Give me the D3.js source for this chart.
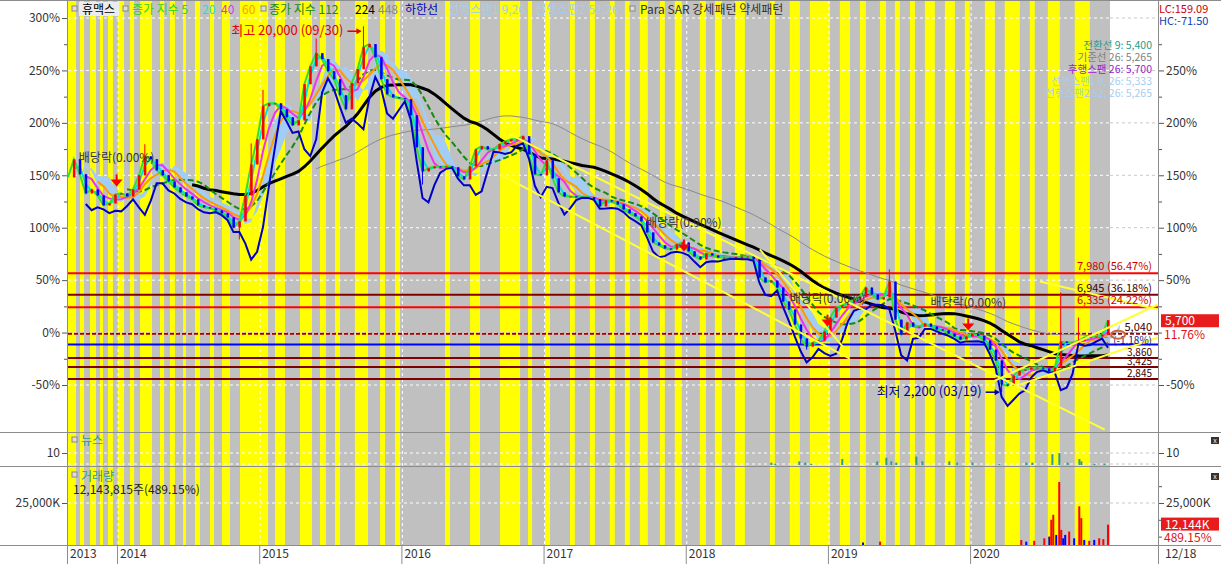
<!DOCTYPE html>
<html><head><meta charset="utf-8">
<script src="https://cdn.jsdelivr.net/npm/d3@7/dist/d3.min.js"></script>
<style>body{margin:0;background:#fff;}svg{display:block;font-family:"Noto Sans CJK KR","Noto Sans",sans-serif;}</style>
</head><body><svg id="c" width="1221" height="564"></svg>
<script>
// ---------------- DATA ----------------
const basePrice = 5100;
const tStart = 2013.648, tEnd = 2020.963;   // decimal years (first / last sample)
const closes = [12650,13530,12800,11870,12060,11770,11290,11380,11820,11870,11720,12060,12750,13670,13530,12990,12750,12450,12160,11920,
11720,11580,11290,11190,11140,11040,10900,10700,10210,10510,11770,13280,14500,16110,16250,16250,15960,15570,15180,15420,
17180,18050,18690,18400,17810,17420,16640,15960,17230,17910,18980,19130,18490,17420,16690,16540,16500,16450,15670,14110,
12940,13090,13180,13140,13180,13140,12700,12550,13180,14010,14160,14010,14010,14260,14400,14500,14500,14650,13770,12800,
12750,13480,12600,11920,11720,11720,11680,11680,11680,11580,11240,11530,11480,11330,11090,10900,10750,10510,9970,9480,
9340,9190,9140,9390,9480,9050,8800,8660,8950,8850,8750,8750,8750,8700,8800,8800,8660,7780,7540,7630,
7290,6610,6220,5490,4810,4420,4610,4710,5150,5830,6320,6420,6560,6710,6850,7290,6950,6710,6810,7580,
5730,5000,5590,5390,5390,5540,5390,5250,5200,5050,4910,4760,4910,5050,4950,4710,4270,3740,2570,2520,
3010,3250,3300,3400,3400,3350,3200,3400,4660,4610,4610,4710,4860,4910,4910,5000,5700];
// notable wick extremes [sample index, price]
const wickHighs = [[13,14260],[42,19400],[50,20000],[139,8170],[168,7050],[171,5830],[31,14300],[33,16900]];
const wickLows  = [[29,9630],[125,4270],[158,2200],[124,4500],[60,12300]];
const maLabels  = ["5","20","40","60","112","224","448"];
const maPeriods = [1,2,4,6,11,22,43];      // in samples (~15 days each)
const maColors  = ["#33dd33","#00e0e0","#ee33ee","#ff9900","#138a13","#000000","#8a8a8a"];
// price levels
const levelPrices = [7980,6945,6335,5040,4515,3860,3425,2845];
const levelKinds  = ["red","maroon","red","dash","blue","maroon","maroon","maroon"];
const levelText   = ["7,980 (56.47%)","6,945 (36.18%)","6,335 (24.22%)","5,040","(-1.18%)","3,860","3,425","2,845"];
// para SAR strong (yellow) periods, decimal years; rest is weak (gray)
const sarStrong = [[2013.648,2013.704],[2013.732,2013.761],[2013.803,2013.845],[2013.873,2013.894],[2013.929,2013.964],
[2014.000,2014.042],[2014.084,2014.113],[2014.155,2014.239],[2014.295,2014.324],[2014.365,2014.400],[2014.457,2014.478],
[2014.541,2014.576],[2014.647,2014.675],[2014.731,2014.787],[2014.858,2015.055],[2015.104,2015.174],[2015.280,2015.364],
[2015.420,2015.462],[2015.526,2015.561],[2015.666,2015.758],[2015.843,2015.878],[2015.948,2015.983],[2016.300,2016.335],
[2016.476,2016.546],[2016.687,2016.828],[2016.884,2016.912],[2017.003,2017.038],[2017.179,2017.213],[2017.319,2017.354],
[2017.459,2017.494],[2017.565,2017.600],[2017.670,2017.726],[2017.811,2017.846],[2017.916,2017.965],[2018.092,2018.135],
[2018.198,2018.247],[2018.339,2018.409],[2018.585,2018.620],[2018.725,2018.796],[2018.866,2019.007],[2019.077,2019.148],
[2019.218,2019.260],[2019.359,2019.401],[2019.464,2019.499],[2019.570,2019.605],[2019.675,2019.745],[2019.816,2019.886],
[2019.956,2019.991],[2020.097,2020.167],[2020.237,2020.343],[2020.413,2020.448],[2020.540,2020.624],[2020.729,2020.835]];
// trend lines [t1, p1, t2, p2]
const trendLines = [[2016.756,14743,2020.940,380],[2016.686,12795,2019.147,3834],[2018.514,9142,2019.098,4418],
[2020.153,2714,2021.313,6464],[2020.343,2568,2021.313,4857],[2020.484,7584,2021.313,6220]];
// ex-dividend events (time, arrow-tip price, label)
const divTimes  = [2013.99,2017.98,2018.99,2019.98];
const divPrices = [12210,9045,5390,5200];
const divText   = ["배당락(0.00%)","배당락(0.90%)","배당락(0.00%)","배당락(0.00%)"];
// volume (thousand shares)
const volTimes = [2019.360,2019.240,2020.353,2020.388,2020.444,2020.515,2020.550,2020.564,2020.578,2020.599,2020.620,2020.634,2020.648,2020.662,2020.690,2020.725,2020.761,2020.775,2020.796,2020.831,2020.866,2020.901,2020.930,2020.963];
const volValues= [2000,1500,3000,2000,2500,4000,5000,15000,18000,6000,37500,9000,4000,6000,8000,4000,23000,16000,3000,2500,3000,4000,3500,12144];
const volUp    = [1,0,1,0,1,1,0,1,1,0,1,1,0,0,1,0,1,1,0,1,0,1,1,1];
// news counts
const newsTimes = [2018.595,2018.623,2018.792,2018.834,2018.876,2019.094,2019.340,2019.404,2019.439,2019.474,2019.615,2019.657,2019.847,2019.903,2020.009,2020.199,2020.389,2020.431,2020.572,2020.621,2020.678,2020.762,2020.776,2020.868,2020.938];
const newsCounts= [2,1,3,2,1,5,3,6,3,2,7,3,3,2,2,1,2,2,9,10,2,5,3,1,1];
const yearTicks = [2014,2015,2016,2017,2018,2019,2020];
const priceTicks = [-50,0,50,100,150,200,250,300];

// ---------------- SCALES ----------------
const svg = d3.select("#c");
const XL = 68, XR = 1158, XD = 1108;
const x = d3.scaleLinear().domain([tStart,tEnd]).range([XL,XD]);
const y = d3.scaleLinear().domain([-50,300]).range([385,18]);
const pct = p => (p/basePrice-1)*100;
const yp = p => y(pct(p));
const yNews = d3.scaleLinear().domain([0,10]).range([465,453]);
const yVol = d3.scaleLinear().domain([0,25000]).range([545,503]);
const step = (tEnd-tStart)/(closes.length-1);
const times = closes.map((_,i)=>tStart+i*step);
const FONT = '"Noto Sans CJK KR","Noto Sans",sans-serif';

svg.append("rect").attr("width",1221).attr("height",564).attr("fill","#fff");

// ---------------- BACKGROUND (Para SAR) ----------------
const bg = svg.append("g");
bg.append("rect").attr("x",XL).attr("y",1).attr("width",XD-XL+2).attr("height",544).attr("fill","#c0c0c0");
bg.selectAll("rect.s").data(sarStrong).join("rect").attr("class","s")
  .attr("x",d=>x(d[0])).attr("width",d=>Math.max(1,x(d[1])-x(d[0]))).attr("y",1).attr("height",544).attr("fill","#ffff00");

// grid
const grid = svg.append("g");
priceTicks.forEach(v=>{
  grid.append("line").attr("x1",XL).attr("x2",XD+2).attr("y1",y(v)).attr("y2",y(v)).attr("stroke","#fff").attr("stroke-dasharray","3,3");
  grid.append("line").attr("x1",XD+2).attr("x2",XR).attr("y1",y(v)).attr("y2",y(v)).attr("stroke","#c8c8c8").attr("stroke-dasharray","3,3");
});
[[yNews(10)],[464],[yVol(25000)]].forEach(([v])=>{
  grid.append("line").attr("x1",XL).attr("x2",XD+2).attr("y1",v).attr("y2",v).attr("stroke","#fff").attr("stroke-dasharray","3,3");
  grid.append("line").attr("x1",XD+2).attr("x2",XR).attr("y1",v).attr("y2",v).attr("stroke","#c8c8c8").attr("stroke-dasharray","3,3");
});
yearTicks.forEach(t=>{
  grid.append("line").attr("x1",x(t)).attr("x2",x(t)).attr("y1",1).attr("y2",545).attr("stroke","#fff").attr("stroke-dasharray","3,3");
});

// ---------------- INDICATORS ----------------
const price = svg.append("g");
function rollMean(arr,n){return arr.map((_,i)=> i<n-1?null:d3.mean(arr.slice(i-n+1,i+1)));}
function rollMid(arr,i,n){const s=arr.slice(Math.max(0,i-n+1),i+1);return (d3.max(s)+d3.min(s))/2;}
// ichimoku cloud
const shift = 2;
const cloud = closes.map((c,i)=>({t:tStart+(i+shift)*step,a:(rollMid(closes,i,1)+rollMid(closes,i,3))/2,b:rollMid(closes,i,5)}));
price.append("path").datum(cloud).attr("fill","#a2cdf6")
  .attr("d",d3.area().x(d=>x(d.t)).y0(d=>yp(d.a)).y1(d=>yp(d.b)));
// levels
const lvColor = {red:"#ff0000",maroon:"#800000",dash:"#a00000",blue:"#0000ff"};
levelPrices.forEach((p,i)=>{
  const k=levelKinds[i];
  price.append("line").attr("x1",XL).attr("x2",XR).attr("y1",yp(p)).attr("y2",yp(p))
    .attr("stroke",lvColor[k]).attr("stroke-width",2).attr("stroke-dasharray",k==="dash"?"4,2":null);
});
// moving averages (long ones first)
for(let m=maPeriods.length-1;m>=0;m--){
  const ma=rollMean(closes,maPeriods[m]);
  const line=d3.line().defined(d=>d!=null).x((d,i)=>x(times[i])).y(d=>yp(d));
  price.append("path").datum(ma).attr("fill","none").attr("stroke",maColors[m])
    .attr("stroke-width",m===5?3:(m===6?1:2)).attr("stroke-dasharray",m===4?"6,3":null).attr("d",line);
}
// candles
const cg = price.append("g");
closes.forEach((c,i)=>{
  if(i===0) return;
  const o=closes[i-1], up=c>=o, col=up?"#ff0000":"#0000ff";
  const hi=(wickHighs.find(d=>d[0]===i)||[0,Math.max(o,c)])[1];
  const lo=(wickLows.find(d=>d[0]===i)||[0,Math.min(o,c)])[1];
  const xx=x(times[i]);
  cg.append("line").attr("x1",xx).attr("x2",xx).attr("y1",yp(hi)).attr("y2",yp(lo)).attr("stroke",col).attr("stroke-width",1);
  cg.append("rect").attr("x",xx-1).attr("width",2.5).attr("y",yp(Math.max(o,c))).attr("height",Math.max(1,Math.abs(yp(o)-yp(c)))).attr("fill",col);
});
// lower band (하한선)
const lower = closes.map((c,i)=>{ if(i<3) return null; const s=closes.slice(i-3,i+1); return d3.mean(s)-2*d3.deviation(s); });
price.append("path").datum(lower).attr("fill","none").attr("stroke","#0000c8").attr("stroke-width",2)
  .attr("d",d3.line().defined(d=>d!=null).x((d,i)=>x(times[i])).y(d=>yp(d)));
// trend lines
trendLines.forEach(d=>{
  price.append("line").attr("x1",x(d[0])).attr("y1",yp(d[1])).attr("x2",x(d[2])).attr("y2",yp(d[3]))
    .attr("stroke","#ffff33").attr("stroke-width",2);
});

// ---------------- NEWS & VOLUME ----------------
svg.append("g").selectAll("rect").data(newsTimes).join("rect")
  .attr("x",(d)=>x(d)-1).attr("width",2).attr("y",(d,i)=>yNews(newsCounts[i])).attr("height",(d,i)=>465-yNews(newsCounts[i])).attr("fill","#2f9a8f");
svg.append("g").selectAll("rect").data(volTimes).join("rect")
  .attr("x",(d)=>x(d)-1).attr("width",2).attr("y",(d,i)=>yVol(volValues[i])).attr("height",(d,i)=>545-yVol(volValues[i]))
  .attr("fill",(d,i)=>volUp[i]?"#ff0000":"#0000ff");

// ---------------- FRAME & AXES ----------------
const fr = svg.append("g").attr("stroke","#8c8c8c").attr("stroke-width",1);
[432.5,466.5,545.5].forEach(v=>fr.append("line").attr("x1",0).attr("x2",1221).attr("y1",v).attr("y2",v));
fr.append("line").attr("x1",0).attr("x2",1221).attr("y1",0.5).attr("y2",0.5);
fr.append("line").attr("x1",XL-0.5).attr("x2",XL-0.5).attr("y1",0).attr("y2",564);
fr.append("line").attr("x1",XR+0.5).attr("x2",XR+0.5).attr("y1",0).attr("y2",564);

function styleAx(g){g.select(".domain").remove();g.selectAll("line").attr("stroke","#555");
  g.selectAll("text").attr("font-size",12).attr("fill","#333").attr("font-family",FONT);}
svg.append("g").attr("transform",`translate(${XL-1},0)`).call(d3.axisLeft(y).tickValues(priceTicks).tickFormat(d=>d+"%").tickSize(5).tickPadding(2)).call(styleAx);
svg.append("g").attr("transform",`translate(${XL-1},0)`).call(d3.axisLeft(y).tickValues(d3.range(-25,300,50)).tickFormat("").tickSize(3)).call(styleAx);
svg.append("g").attr("transform",`translate(${XR+1},0)`).call(d3.axisRight(y).tickValues([-50,50,100,150,200,250]).tickFormat(d=>d+"%").tickSize(5).tickPadding(2)).call(styleAx);
svg.append("g").attr("transform",`translate(${XR+1},0)`).call(d3.axisRight(y).tickValues(d3.range(-25,300,50).concat([0])).tickFormat("").tickSize(3)).call(styleAx);
svg.append("g").attr("transform",`translate(${XL-1},0)`).call(d3.axisLeft(yNews).tickValues([10]).tickSize(5).tickPadding(2)).call(styleAx);
svg.append("g").attr("transform",`translate(${XR+1},0)`).call(d3.axisRight(yNews).tickValues([10]).tickSize(5).tickPadding(2)).call(styleAx);
svg.append("g").attr("transform",`translate(${XL-1},0)`).call(d3.axisLeft(yVol).tickValues([25000]).tickFormat(d=>d3.format(",")(d)+"K").tickSize(5).tickPadding(2)).call(styleAx);
svg.append("g").attr("transform",`translate(${XR+1},0)`).call(d3.axisRight(yVol).tickValues([25000]).tickFormat(d=>d3.format(",")(d)+"K").tickSize(5).tickPadding(2)).call(styleAx);
svg.append("g").attr("transform",`translate(${XR+1},0)`).call(d3.axisRight(yVol).tickValues([5000,15000,35000]).tickFormat("").tickSize(3)).call(styleAx);

// x axis
const xa = svg.append("g");
[tStart].concat(yearTicks).forEach((t,i)=>{
  xa.append("line").attr("x1",x(t)-0.5).attr("x2",x(t)-0.5).attr("y1",545).attr("y2",564).attr("stroke","#8c8c8c");
  xa.append("text").attr("x",x(t)+2).attr("y",558).attr("font-size",12).attr("fill","#333").text(i===0?"2013":t);
});
xa.append("text").attr("x",XR+7).attr("y",558).attr("font-size",12).attr("fill","#333").text("12/18");

// ---------------- TEXT ----------------
function txt(xx,yy,s,col,anchor,size){return svg.append("text").attr("x",xx).attr("y",yy).attr("fill",col).attr("font-size",size||12).attr("text-anchor",anchor||"start").text(s);}
function sq(xx,yy){svg.append("rect").attr("x",xx).attr("y",yy).attr("width",5).attr("height",5).attr("fill","#ddd").attr("stroke","#888").attr("stroke-width",1);}
// legend
sq(72,6); svg.append("rect").attr("x",79).attr("y",2).attr("width",40).attr("height",14).attr("fill","#ececec");
txt(82,14,"휴맥스","#000");
sq(123,6); txt(132,14,"종가 지수 5","#33cc33"); txt(202,14,"20","#22dddd"); txt(221,14,"40","#e030e0"); txt(242,14,"60","#ff9900");
sq(261,6); txt(269,14,"종가 지수 112","#138a13"); txt(355,14,"224","#000"); txt(378,14,"448","#8a8a8a");
txt(405,14,"하한선","#0000c0"); txt(448,14,"선행스팬1 9,26","#a8cdf0"); txt(535,14,"선행스팬2 52,26","#a8cdf0");
sq(630,6); txt(640,14,"Para SAR 강세패턴  약세패턴","#333");
// ichimoku values
txt(1152,49,"전환선 9: 5,400","#2a9a8a","end",10.5); txt(1152,61,"기준선 26: 5,265","#808080","end",10.5);
txt(1152,73,"후행스팬 26: 5,700","#9922cc","end",10.5); txt(1152,85,"선행스팬1 9, 26: 5,333","#a8cdf0","end",10.5);
txt(1152,97,"선행스팬2 52, 26: 5,265","#a8cdf0","end",10.5);
txt(1159,13,"LC:159.09","#cc0000","start",11); txt(1159,25,"HC:-71.50","#1040b0","start",11);
// level labels
levelPrices.forEach((p,i)=>{ if(!levelText[i]) return;
  const k=levelKinds[i];
  if(k==="blue") txt(1152,yp(p)-1,levelText[i],"#202080","end",10);
  else if(i>4) txt(1152,yp(p)-2,levelText[i],"#400000","end",10);
  else if(k==="dash") txt(1152,yp(p)-3,levelText[i],"#400000","end",11);
  else txt(1152,yp(p)-3,levelText[i],k==="red"?"#cc0000":"#400000","end",11); });
// current price box
svg.append("rect").attr("x",1161).attr("y",yp(5700)-6).attr("width",58).attr("height",13).attr("fill","#e81c1c");
txt(1165,yp(5700)+5,"5,700","#fff"); txt(1164,y(0)+6,"11.76%","#dd1111");
svg.append("rect").attr("x",1161).attr("y",yVol(12144)-7).attr("width",58).attr("height",13).attr("fill","#e81c1c");
txt(1165,yVol(12144)+4,"12,144K","#fff"); txt(1164,yVol(12144)+17,"489.15%","#dd1111");
// ellipse marker
svg.append("ellipse").attr("cx",x(tEnd)+10).attr("cy",y(-2)).attr("rx",7).attr("ry",4).attr("fill","none").attr("stroke","#cc6633").attr("stroke-width",2);
// close icons
[437,473].forEach(v=>{svg.append("rect").attr("x",1211).attr("y",v).attr("width",8).attr("height",7).attr("fill","#333");
  svg.append("text").attr("x",1215).attr("y",v+6).attr("font-size",7).attr("fill","#fff").attr("text-anchor","middle").text("x");});
// panel titles
sq(72,437); txt(81,445,"뉴스","#2f9a8f");
sq(72,472); txt(81,481,"거래량","#2f9a8f"); txt(73,494,"12,143,815주(489.15%)","#222");
// high / low annotations
const hiT = times[50], loT = times[158];
txt(x(hiT)-20,yp(20000)+9,"최고 20,000 (09/30)","#e00000","end",13);
svg.append("line").attr("x1",x(hiT)-16).attr("x2",x(hiT)-3).attr("y1",yp(20000)+5).attr("y2",yp(20000)+5).attr("stroke","#e00000").attr("stroke-width",1.5);
svg.append("path").attr("d",`M${x(hiT)-2},${yp(20000)+5} l-5,-3 v6 z`).attr("fill","#e00000");
txt(x(loT)-20,yp(2200)+4,"최저 2,200 (03/19)","#0000a0","end",13);
svg.append("line").attr("x1",x(loT)-16).attr("x2",x(loT)-3).attr("y1",yp(2200)).attr("y2",yp(2200)).attr("stroke","#0000a0").attr("stroke-width",1.5);
svg.append("path").attr("d",`M${x(loT)-2},${yp(2200)} l-5,-3 v6 z`).attr("fill","#0000a0");
// dividends
divTimes.forEach((t,i)=>{
  const tip=yp(divPrices[i]), xx=x(t);
  svg.append("line").attr("x1",xx).attr("x2",xx).attr("y1",tip-12).attr("y2",tip-6).attr("stroke","#ff0000").attr("stroke-width",2);
  svg.append("path").attr("d",`M${xx-6},${tip-7} h12 l-6,7 z`).attr("fill","#ff0000");
  txt(xx,tip-24,divText[i],"#333","middle");
});
</script></body></html>
